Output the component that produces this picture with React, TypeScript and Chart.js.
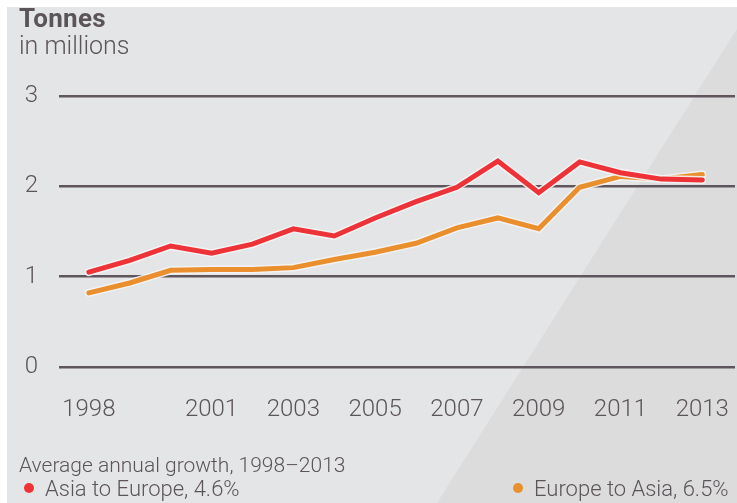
import React, { useEffect, useRef } from "react";
import { Chart, registerables } from "chart.js";

Chart.register(...registerables);

const years = [1998, 1999, 2000, 2001, 2002, 2003, 2004, 2005, 2006, 2007, 2008, 2009, 2010, 2011, 2012, 2013];
const asiaToEurope = [1.05, 1.18, 1.34, 1.26, 1.36, 1.53, 1.45, 1.65, 1.83, 1.99, 2.28, 1.93, 2.27, 2.15, 2.08, 2.07];
const europeToAsia = [0.82, 0.93, 1.07, 1.08, 1.08, 1.1, 1.19, 1.27, 1.37, 1.54, 1.65, 1.53, 1.99, 2.11, 2.08, 2.13];
const xTickYears = [1998, 2001, 2003, 2005, 2007, 2009, 2011, 2013];
const yTicks = [0, 1, 2, 3];

const seriesNames = ["Asia to Europe, 4.6%", "Europe to Asia, 6.5%"];
const RED = "#ee3338";
const ORANGE = "#ea8f2d";
const TEXT = "#5b5459";
const GRID = "#5e565c";
const FONT = "Roboto, 'Liberation Sans', sans-serif";

const bgPlugin = {
  id: "bg",
  beforeDraw(chart: any) {
    const ctx = chart.ctx;
    const w = chart.width;
    const h = chart.height;
    ctx.save();
    ctx.fillStyle = "#ffffff";
    ctx.fillRect(0, 0, w, h);
    ctx.fillStyle = "#e4e5e7";
    ctx.fillRect(7, 7, w - 7, h - 7);
    ctx.fillStyle = "#dcdcdd";
    ctx.beginPath();
    ctx.moveTo(w, 29);
    ctx.lineTo(w, h);
    ctx.lineTo(437, h);
    ctx.closePath();
    ctx.fill();
    ctx.restore();
  },
};

export default function App() {
  const ref = useRef<HTMLCanvasElement>(null);

  useEffect(() => {
    document.body.style.margin = "0";
    const toPts = (vals: number[]) => years.map((y, i) => ({ x: y, y: vals[i] }));
    const chart = new Chart(ref.current!, {
      type: "line",
      data: {
        datasets: [
          { label: seriesNames[0], data: toPts(asiaToEurope), borderColor: RED, borderWidth: 5 },
          { label: "halo1", data: toPts(asiaToEurope), borderColor: "rgba(244,244,245,0.9)", borderWidth: 8 },
          { label: seriesNames[1], data: toPts(europeToAsia), borderColor: ORANGE, borderWidth: 5 },
          { label: "halo2", data: toPts(europeToAsia), borderColor: "rgba(244,244,245,0.9)", borderWidth: 8 },
        ].map((d) => ({ ...d, pointRadius: 0, tension: 0, borderCapStyle: "round", borderJoinStyle: "miter", fill: false })) as any,
      },
      options: {
        animation: false,
        responsive: false,
        maintainAspectRatio: false,
        events: [],
        layout: { padding: { top: 96, right: 2, left: 0, bottom: 0 } },
        plugins: { legend: { display: false }, tooltip: { enabled: false }, title: { display: false } },
        scales: {
          x: {
            type: "linear",
            min: 1997.27,
            max: 2013.8,
            afterBuildTicks: (axis: any) => {
              axis.ticks = xTickYears.map((v) => ({ value: v }));
            },
            afterFit: (axis: any) => {
              axis.height = 136;
              axis.paddingLeft = 0;
              axis.paddingRight = 0;
            },
            grid: { display: false, drawTicks: false },
            border: { display: false },
            ticks: {
              autoSkip: false,
              maxRotation: 0,
              padding: 29,
              color: TEXT,
              font: { family: FONT, size: 24, weight: "300" },
              callback: (v: any) => String(v),
            },
          },
          y: {
            min: 0,
            max: 3,
            afterBuildTicks: (axis: any) => {
              axis.ticks = yTicks.map((v) => ({ value: v }));
            },
            afterFit: (axis: any) => {
              axis.width = 59;
            },
            grid: { color: GRID, lineWidth: 2.5, drawTicks: false },
            border: { display: false },
            ticks: {
              padding: 21,
              color: TEXT,
              font: { family: FONT, size: 24, weight: "300" },
              callback: (v: any) => String(v),
            },
          },
        },
      } as any,
      plugins: [bgPlugin],
    });
    return () => chart.destroy();
  }, []);

  const dot = (c: string) => (
    <span style={{ display: "inline-block", width: 10, height: 10, borderRadius: 5, background: c, marginRight: 11, verticalAlign: "middle", position: "relative", top: -2 }} />
  );

  return (
    <div style={{ position: "relative", width: 737, height: 503, fontFamily: FONT, color: TEXT }}>
      <canvas ref={ref} width={737} height={503} style={{ display: "block", width: 737, height: 503 }} />
      <div style={{ position: "absolute", left: 19, top: 4, fontSize: 26, fontWeight: 700, lineHeight: "28px", letterSpacing: 0.3 }}>Tonnes</div>
      <div style={{ position: "absolute", left: 19, top: 32, fontSize: 25, fontWeight: 300, lineHeight: "28px" }}>in millions</div>
      <div style={{ position: "absolute", left: 19, top: 453, fontSize: 21, fontWeight: 300, lineHeight: "24px", whiteSpace: "nowrap" }}>
        Average annual growth, 1998–2013
      </div>
      <div style={{ position: "absolute", left: 24, top: 477, fontSize: 22, fontWeight: 300, lineHeight: "24px", whiteSpace: "nowrap" }}>
        {dot(RED)}
        {seriesNames[0]}
      </div>
      <div style={{ position: "absolute", left: 513, top: 477, fontSize: 22, fontWeight: 300, lineHeight: "24px", whiteSpace: "nowrap" }}>
        {dot(ORANGE)}
        {seriesNames[1]}
      </div>
    </div>
  );
}
